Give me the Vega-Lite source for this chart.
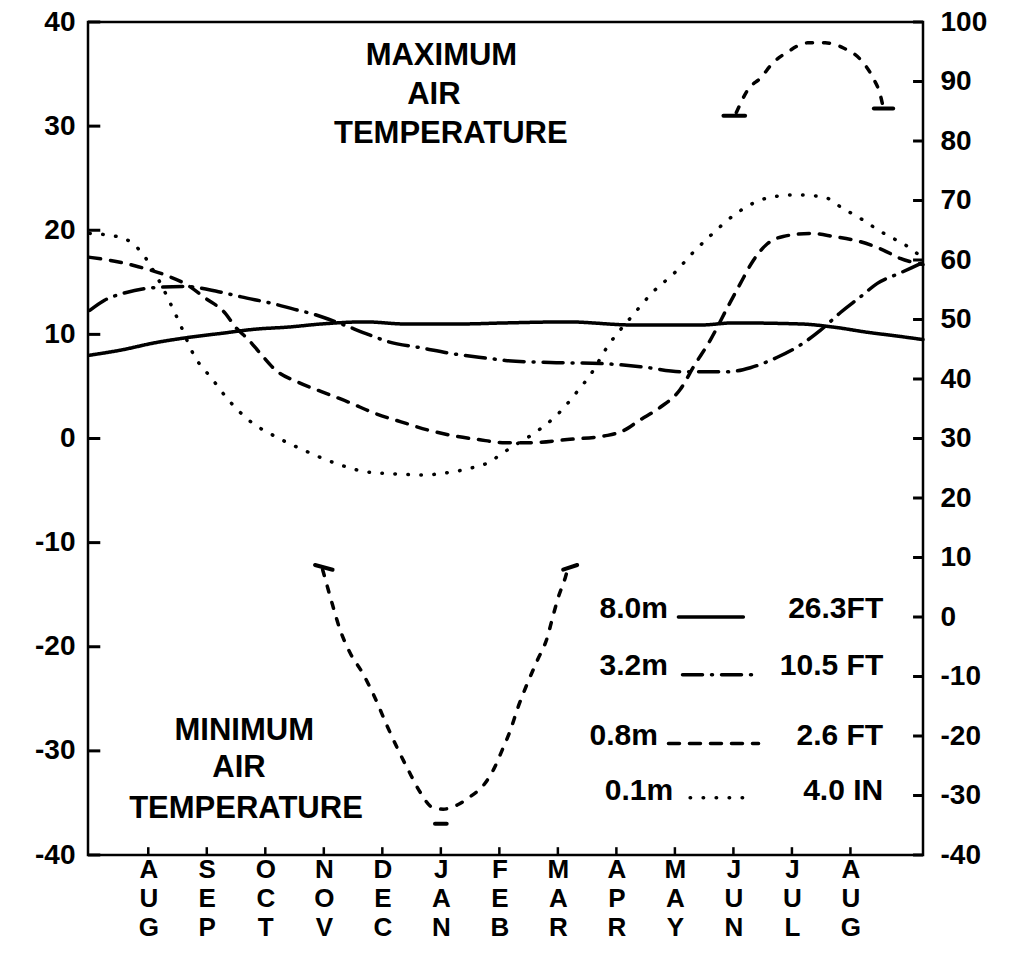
{
  "$schema": "https://vega.github.io/schema/vega-lite/v6.json",
  "width": 835,
  "height": 833,
  "autosize": {"type": "none"},
  "padding": {"left": 88, "top": 22, "right": 99, "bottom": 102},
  "background": "white",
  "config": {
    "view": {"stroke": "black", "strokeWidth": 2.5},
    "font": "Liberation Sans",
    "axis": {"domain": false, "grid": false, "ticks": false, "tickSize": 0, "labelColor": "black", "labelFont": "Liberation Sans", "labelFontSize": 28, "labelFontWeight": "bold", "title": null, "labelOverlap": false, "labelFlush": false, "labelBound": false},
    "text": {"font": "Liberation Sans", "color": "black"}
  },
  "datasets": {
    "soil": [
      {"depth": "8.0 m", "u": 0, "t": 8.0}, {"depth": "8.0 m", "u": 0.54, "t": 8.5}, {"depth": "8.0 m", "u": 1.12, "t": 9.2}, {"depth": "8.0 m", "u": 1.68, "t": 9.7}, {"depth": "8.0 m", "u": 2.25, "t": 10.1}, {"depth": "8.0 m", "u": 2.83, "t": 10.5}, {"depth": "8.0 m", "u": 3.39, "t": 10.7}, {"depth": "8.0 m", "u": 3.96, "t": 11.0}, {"depth": "8.0 m", "u": 4.71, "t": 11.2}, {"depth": "8.0 m", "u": 5.39, "t": 11.0}, {"depth": "8.0 m", "u": 6.34, "t": 11.0}, {"depth": "8.0 m", "u": 7.1, "t": 11.1}, {"depth": "8.0 m", "u": 8.16, "t": 11.2}, {"depth": "8.0 m", "u": 9.29, "t": 10.9}, {"depth": "8.0 m", "u": 10.44, "t": 10.9}, {"depth": "8.0 m", "u": 11.0, "t": 11.1}, {"depth": "8.0 m", "u": 12.15, "t": 11.0}, {"depth": "8.0 m", "u": 12.71, "t": 10.7}, {"depth": "8.0 m", "u": 13.29, "t": 10.2}, {"depth": "8.0 m", "u": 13.85, "t": 9.8}, {"depth": "8.0 m", "u": 14.24, "t": 9.5},
      {"depth": "3.2 m", "u": 0, "t": 12.3}, {"depth": "3.2 m", "u": 0.26, "t": 13.3}, {"depth": "3.2 m", "u": 0.61, "t": 14.0}, {"depth": "3.2 m", "u": 1.12, "t": 14.5}, {"depth": "3.2 m", "u": 1.63, "t": 14.6}, {"depth": "3.2 m", "u": 2.2, "t": 14.1}, {"depth": "3.2 m", "u": 2.59, "t": 13.6}, {"depth": "3.2 m", "u": 3.17, "t": 12.9}, {"depth": "3.2 m", "u": 3.5, "t": 12.4}, {"depth": "3.2 m", "u": 3.85, "t": 11.9}, {"depth": "3.2 m", "u": 4.3, "t": 11.0}, {"depth": "3.2 m", "u": 4.71, "t": 10.1}, {"depth": "3.2 m", "u": 5.1, "t": 9.3}, {"depth": "3.2 m", "u": 5.67, "t": 8.7}, {"depth": "3.2 m", "u": 6.25, "t": 8.1}, {"depth": "3.2 m", "u": 6.81, "t": 7.7}, {"depth": "3.2 m", "u": 7.1, "t": 7.5}, {"depth": "3.2 m", "u": 7.87, "t": 7.3}, {"depth": "3.2 m", "u": 8.73, "t": 7.2}, {"depth": "3.2 m", "u": 9.41, "t": 6.9}, {"depth": "3.2 m", "u": 10.15, "t": 6.4}, {"depth": "3.2 m", "u": 10.9, "t": 6.4}, {"depth": "3.2 m", "u": 11.29, "t": 6.8}, {"depth": "3.2 m", "u": 11.75, "t": 7.8}, {"depth": "3.2 m", "u": 12.15, "t": 9.0}, {"depth": "3.2 m", "u": 12.49, "t": 10.4}, {"depth": "3.2 m", "u": 12.83, "t": 12.1}, {"depth": "3.2 m", "u": 13.17, "t": 13.6}, {"depth": "3.2 m", "u": 13.46, "t": 14.9}, {"depth": "3.2 m", "u": 13.85, "t": 15.9}, {"depth": "3.2 m", "u": 14.24, "t": 16.9},
      {"depth": "0.8 m", "u": 0, "t": 17.4}, {"depth": "0.8 m", "u": 0.45, "t": 17.0}, {"depth": "0.8 m", "u": 0.83, "t": 16.5}, {"depth": "0.8 m", "u": 1.29, "t": 15.7}, {"depth": "0.8 m", "u": 1.68, "t": 14.7}, {"depth": "0.8 m", "u": 1.97, "t": 13.5}, {"depth": "0.8 m", "u": 2.32, "t": 12.0}, {"depth": "0.8 m", "u": 2.49, "t": 10.7}, {"depth": "0.8 m", "u": 2.71, "t": 9.5}, {"depth": "0.8 m", "u": 2.91, "t": 8.2}, {"depth": "0.8 m", "u": 3.17, "t": 6.6}, {"depth": "0.8 m", "u": 3.56, "t": 5.4}, {"depth": "0.8 m", "u": 3.96, "t": 4.5}, {"depth": "0.8 m", "u": 4.42, "t": 3.5}, {"depth": "0.8 m", "u": 4.88, "t": 2.4}, {"depth": "0.8 m", "u": 5.32, "t": 1.6}, {"depth": "0.8 m", "u": 5.79, "t": 0.8}, {"depth": "0.8 m", "u": 6.18, "t": 0.3}, {"depth": "0.8 m", "u": 6.64, "t": -0.1}, {"depth": "0.8 m", "u": 7.1, "t": -0.4}, {"depth": "0.8 m", "u": 7.53, "t": -0.4}, {"depth": "0.8 m", "u": 8.16, "t": -0.1}, {"depth": "0.8 m", "u": 8.85, "t": 0.3}, {"depth": "0.8 m", "u": 9.1, "t": 0.7}, {"depth": "0.8 m", "u": 9.41, "t": 1.8}, {"depth": "0.8 m", "u": 9.75, "t": 3.0}, {"depth": "0.8 m", "u": 10.09, "t": 4.7}, {"depth": "0.8 m", "u": 10.32, "t": 6.9}, {"depth": "0.8 m", "u": 10.61, "t": 9.5}, {"depth": "0.8 m", "u": 10.9, "t": 12.6}, {"depth": "0.8 m", "u": 11.12, "t": 14.9}, {"depth": "0.8 m", "u": 11.34, "t": 17.1}, {"depth": "0.8 m", "u": 11.58, "t": 18.7}, {"depth": "0.8 m", "u": 11.85, "t": 19.4}, {"depth": "0.8 m", "u": 12.32, "t": 19.7}, {"depth": "0.8 m", "u": 12.71, "t": 19.4}, {"depth": "0.8 m", "u": 13.17, "t": 18.9}, {"depth": "0.8 m", "u": 13.56, "t": 18.1}, {"depth": "0.8 m", "u": 13.85, "t": 17.3}, {"depth": "0.8 m", "u": 14.08, "t": 16.9}, {"depth": "0.8 m", "u": 14.24, "t": 16.7},
      {"depth": "0.1 m", "u": 0, "t": 19.7}, {"depth": "0.1 m", "u": 0.54, "t": 19.3}, {"depth": "0.1 m", "u": 0.88, "t": 17.9}, {"depth": "0.1 m", "u": 1.17, "t": 15.3}, {"depth": "0.1 m", "u": 1.51, "t": 11.4}, {"depth": "0.1 m", "u": 1.8, "t": 7.8}, {"depth": "0.1 m", "u": 2.08, "t": 5.8}, {"depth": "0.1 m", "u": 2.37, "t": 3.7}, {"depth": "0.1 m", "u": 2.71, "t": 1.8}, {"depth": "0.1 m", "u": 3.22, "t": 0.05}, {"depth": "0.1 m", "u": 3.65, "t": -1.1}, {"depth": "0.1 m", "u": 4.21, "t": -2.4}, {"depth": "0.1 m", "u": 4.73, "t": -3.2}, {"depth": "0.1 m", "u": 5.22, "t": -3.4}, {"depth": "0.1 m", "u": 5.7, "t": -3.5}, {"depth": "0.1 m", "u": 6.09, "t": -3.3}, {"depth": "0.1 m", "u": 6.47, "t": -2.9}, {"depth": "0.1 m", "u": 6.85, "t": -2.2}, {"depth": "0.1 m", "u": 7.03, "t": -1.5}, {"depth": "0.1 m", "u": 7.22, "t": -0.8}, {"depth": "0.1 m", "u": 7.62, "t": 0.6}, {"depth": "0.1 m", "u": 8.01, "t": 2.4}, {"depth": "0.1 m", "u": 8.33, "t": 4.5}, {"depth": "0.1 m", "u": 8.59, "t": 6.4}, {"depth": "0.1 m", "u": 8.81, "t": 8.5}, {"depth": "0.1 m", "u": 9.29, "t": 11.9}, {"depth": "0.1 m", "u": 9.63, "t": 14.1}, {"depth": "0.1 m", "u": 10.01, "t": 16.0}, {"depth": "0.1 m", "u": 10.3, "t": 17.8}, {"depth": "0.1 m", "u": 10.61, "t": 19.5}, {"depth": "0.1 m", "u": 11.07, "t": 21.7}, {"depth": "0.1 m", "u": 11.58, "t": 23.1}, {"depth": "0.1 m", "u": 12.06, "t": 23.4}, {"depth": "0.1 m", "u": 12.54, "t": 23.2}, {"depth": "0.1 m", "u": 12.87, "t": 22.1}, {"depth": "0.1 m", "u": 13.21, "t": 21.0}, {"depth": "0.1 m", "u": 13.51, "t": 19.9}, {"depth": "0.1 m", "u": 13.77, "t": 19.1}, {"depth": "0.1 m", "u": 13.99, "t": 18.4}, {"depth": "0.1 m", "u": 14.24, "t": 17.3}
    ],
    "air": [
      {"series": "max", "u": 11.05, "t": 31.3}, {"series": "max", "u": 11.26, "t": 33.6}, {"series": "max", "u": 11.46, "t": 34.6}, {"series": "max", "u": 11.68, "t": 36.1}, {"series": "max", "u": 11.92, "t": 37.1}, {"series": "max", "u": 12.27, "t": 38.0}, {"series": "max", "u": 12.57, "t": 38.0}, {"series": "max", "u": 12.88, "t": 37.5}, {"series": "max", "u": 13.17, "t": 36.4}, {"series": "max", "u": 13.38, "t": 34.7}, {"series": "max", "u": 13.51, "t": 33.0}, {"series": "max", "u": 13.56, "t": 31.8},
      {"series": "min", "u": 3.98, "t": -12.6}, {"series": "min", "u": 4.03, "t": -13.6}, {"series": "min", "u": 4.15, "t": -16.0}, {"series": "min", "u": 4.28, "t": -18.4}, {"series": "min", "u": 4.45, "t": -20.6}, {"series": "min", "u": 4.66, "t": -22.5}, {"series": "min", "u": 4.85, "t": -24.6}, {"series": "min", "u": 5.09, "t": -27.7}, {"series": "min", "u": 5.27, "t": -29.9}, {"series": "min", "u": 5.44, "t": -31.8}, {"series": "min", "u": 5.65, "t": -34.0}, {"series": "min", "u": 5.85, "t": -35.4}, {"series": "min", "u": 6.04, "t": -35.6}, {"series": "min", "u": 6.28, "t": -35.2}, {"series": "min", "u": 6.5, "t": -34.4}, {"series": "min", "u": 6.73, "t": -33.3}, {"series": "min", "u": 6.9, "t": -31.8}, {"series": "min", "u": 7.05, "t": -29.9}, {"series": "min", "u": 7.19, "t": -28.0}, {"series": "min", "u": 7.32, "t": -25.8}, {"series": "min", "u": 7.48, "t": -23.5}, {"series": "min", "u": 7.65, "t": -21.3}, {"series": "min", "u": 7.82, "t": -19.1}, {"series": "min", "u": 7.91, "t": -17.2}, {"series": "min", "u": 8.01, "t": -15.2}, {"series": "min", "u": 8.13, "t": -13.3}, {"series": "min", "u": 8.17, "t": -12.5}
    ],
    "bars": [
      {"u": 10.83, "u2": 11.2, "t": 31.0, "t2": 31.0},
      {"u": 13.4, "u2": 13.73, "t": 31.7, "t2": 31.7},
      {"u": 3.85, "u2": 4.15, "t": -12.15, "t2": -12.6},
      {"u": 8.09, "u2": 8.33, "t": -12.6, "t2": -12.15},
      {"u": 5.9, "u2": 6.1, "t": -37.0, "t2": -37.0}
    ],
    "legendLines": [
      {"depth": "8.0 m", "u": 10.06, "u2": 11.17, "t": -17.15},
      {"depth": "3.2 m", "u": 10.13, "u2": 11.32, "t": -22.7},
      {"depth": "0.8 m", "u": 9.89, "u2": 11.43, "t": -29.3},
      {"depth": "0.1 m", "u": 10.26, "u2": 11.29, "t": -34.5}
    ],
    "annotations": [
      {"text": "MAXIMUM", "u": 6.01, "t": 35.9},
      {"text": "AIR", "u": 5.88, "t": 32.1},
      {"text": "TEMPERATURE", "u": 6.17, "t": 28.4},
      {"text": "MINIMUM", "u": 2.64, "t": -29.0},
      {"text": "AIR", "u": 2.55, "t": -32.5},
      {"text": "TEMPERATURE", "u": 2.67, "t": -36.4}
    ],
    "legendText": [
      {"text": "8.0m", "u": 9.88, "t": -17.24},
      {"text": "3.2m", "u": 9.88, "t": -22.72},
      {"text": "0.8m", "u": 9.71, "t": -29.4},
      {"text": "0.1m", "u": 9.97, "t": -34.68},
      {"text": "26.3FT", "u": 13.56, "t": -17.24},
      {"text": "10.5 FT", "u": 13.56, "t": -22.72},
      {"text": "2.6 FT", "u": 13.56, "t": -29.4},
      {"text": "4.0 IN", "u": 13.56, "t": -34.68}
    ],
    "celsiusTicks": [{"t": -40}, {"t": -30}, {"t": -20}, {"t": -10}, {"t": 0}, {"t": 10}, {"t": 20}, {"t": 30}, {"t": 40}],
    "monthTicks": [{"u": 1}, {"u": 2}, {"u": 3}, {"u": 4}, {"u": 5}, {"u": 6}, {"u": 7}, {"u": 8}, {"u": 9}, {"u": 10}, {"u": 11}, {"u": 12}, {"u": 13}],
    "fahrenheitTicks": [{"f": -40}, {"f": -30}, {"f": -20}, {"f": -10}, {"f": 0}, {"f": 10}, {"f": 20}, {"f": 30}, {"f": 40}, {"f": 50}, {"f": 60}, {"f": 70}, {"f": 80}, {"f": 90}, {"f": 100}]
  },
  "layer": [
    {
      "layer": [
        {
          "data": {"name": "soil"},
          "mark": {"type": "line", "color": "black", "strokeCap": "round", "interpolate": "monotone"},
          "encoding": {
            "x": {"field": "u", "type": "quantitative", "scale": {"domain": [-0.03, 14.24], "nice": false, "zero": false},
              "axis": {"values": [1, 2, 3, 4, 5, 6, 7, 8, 9, 10, 11, 12, 13], "labelPadding": 1, "labelBaseline": "top", "labelFontSize": 26, "labelLineHeight": 29,
                "labelExpr": "split(['','AUG','SEP','OCT','NOV','DEC','JAN','FEB','MAR','APR','MAY','JUN','JUL','AUG'][datum.value], '')"}},
            "y": {"field": "t", "type": "quantitative", "scale": {"domain": [-40, 40], "nice": false, "zero": false},
              "axis": {"orient": "left", "values": [-40, -30, -20, -10, 0, 10, 20, 30, 40], "labelPadding": 13, "labelExpr": "datum.value + ''"}},
            "strokeDash": {"field": "depth", "type": "nominal", "legend": null,
              "scale": {"domain": ["8.0 m", "3.2 m", "0.8 m", "0.1 m"], "range": [[1, 0], [20, 9, 1, 9], [11, 10], [0.5, 12.5]]}},
            "strokeWidth": {"field": "depth", "type": "nominal", "legend": null,
              "scale": {"domain": ["8.0 m", "3.2 m", "0.8 m", "0.1 m"], "range": [3.5, 3.5, 3.5, 5]}},
            "detail": {"field": "depth"}
          }
        },
        {
          "data": {"name": "air"},
          "mark": {"type": "line", "color": "black", "strokeWidth": 3.5, "strokeCap": "round", "strokeDash": [6, 11], "interpolate": "monotone"},
          "encoding": {
            "x": {"field": "u", "type": "quantitative"},
            "y": {"field": "t", "type": "quantitative"},
            "detail": {"field": "series"}
          }
        },
        {
          "data": {"name": "bars"},
          "mark": {"type": "rule", "color": "black", "strokeWidth": 4, "strokeCap": "round"},
          "encoding": {
            "x": {"field": "u", "type": "quantitative"},
            "x2": {"field": "u2"},
            "y": {"field": "t", "type": "quantitative"},
            "y2": {"field": "t2"}
          }
        },
        {
          "data": {"name": "legendLines"},
          "mark": {"type": "rule", "color": "black", "strokeCap": "round"},
          "encoding": {
            "x": {"field": "u", "type": "quantitative"},
            "x2": {"field": "u2"},
            "y": {"field": "t", "type": "quantitative"},
            "strokeDash": {"field": "depth", "type": "nominal", "legend": null},
            "strokeWidth": {"field": "depth", "type": "nominal", "legend": null}
          }
        },
        {
          "data": {"name": "celsiusTicks"},
          "mark": {"type": "rule", "color": "black", "strokeWidth": 3},
          "encoding": {
            "x": {"datum": -0.03, "type": "quantitative"},
            "x2": {"datum": 0.18},
            "y": {"field": "t", "type": "quantitative"}
          }
        },
        {
          "data": {"name": "monthTicks"},
          "mark": {"type": "rule", "color": "black", "strokeWidth": 2.5},
          "encoding": {
            "x": {"field": "u", "type": "quantitative"},
            "y": {"datum": -40, "type": "quantitative"},
            "y2": {"datum": -39.25}
          }
        },
        {
          "data": {"name": "annotations"},
          "mark": {"type": "text", "align": "center", "baseline": "alphabetic", "fontSize": 31, "fontWeight": "bold", "color": "black"},
          "encoding": {
            "x": {"field": "u", "type": "quantitative"},
            "y": {"field": "t", "type": "quantitative"},
            "text": {"field": "text"}
          }
        },
        {
          "data": {"name": "legendText"},
          "mark": {"type": "text", "align": "right", "baseline": "alphabetic", "fontSize": 30, "fontWeight": "bold", "color": "black"},
          "encoding": {
            "x": {"field": "u", "type": "quantitative"},
            "y": {"field": "t", "type": "quantitative"},
            "text": {"field": "text"}
          }
        }
      ]
    },
    {
      "data": {"name": "fahrenheitTicks"},
      "mark": {"type": "rule", "color": "black", "strokeWidth": 3},
      "encoding": {
        "x": {"datum": 14.07, "type": "quantitative"},
        "x2": {"datum": 14.24},
        "y": {"field": "f", "type": "quantitative", "scale": {"domain": [-40, 100], "nice": false, "zero": false},
          "axis": {"orient": "right", "values": [-40, -30, -20, -10, 0, 10, 20, 30, 40, 50, 60, 70, 80, 90, 100], "labelPadding": 17, "labelExpr": "datum.value + ''"}}
      }
    }
  ],
  "resolve": {"scale": {"y": "independent"}}
}
